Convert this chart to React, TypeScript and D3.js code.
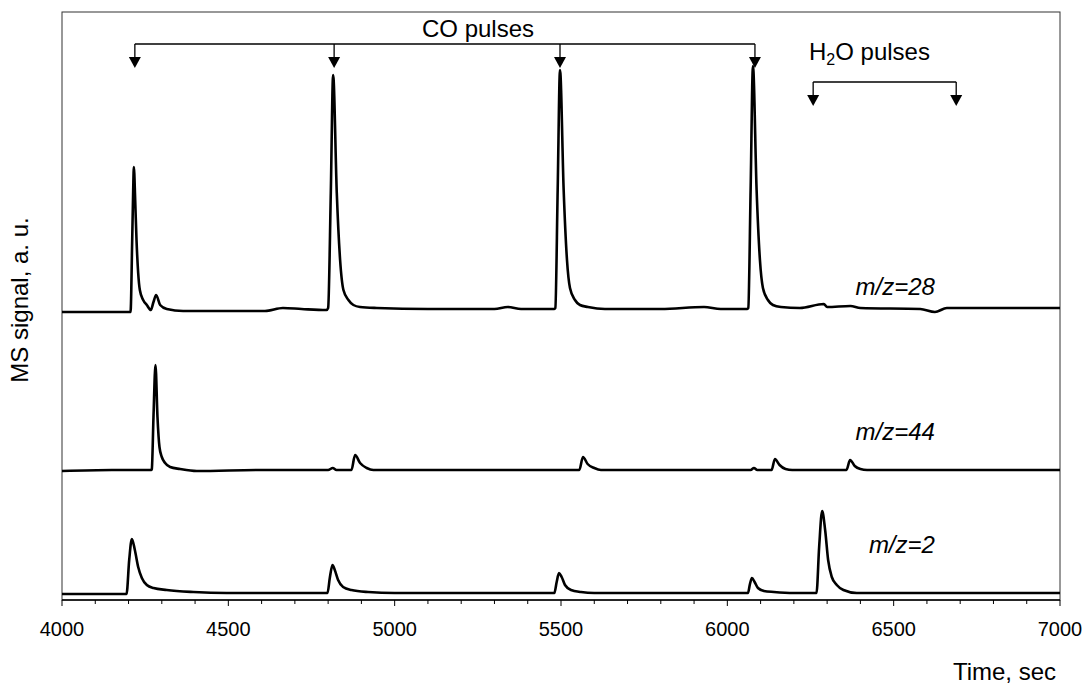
import React from "react";
import * as d3 from "d3";

const W = 1086;
const H = 686;
const M = { left: 62, right: 1060, top: 12, bottom: 600 };

const xTicksMajor = [4000, 4500, 5000, 5500, 6000, 6500, 7000];
const xTicksMinor = d3.range(4000, 7001, 100);

// m/z=28 trace (signal incl. vertical offset, a.u.)
const mz28: [number, number][] = [
  [4000, 288], [4100, 288], [4206, 288], [4211, 360], [4214, 410], [4216, 433], [4220, 400],
  [4224, 360], [4229, 327], [4234, 310], [4244, 300], [4255, 295], [4267, 290], [4275, 298],
  [4283, 305], [4295, 295], [4315, 291], [4364, 289], [4500, 289], [4610, 289], [4664, 292],
  [4720, 291], [4795, 290], [4800, 292], [4808, 407], [4815, 525], [4826, 407], [4836, 340],
  [4846, 310], [4861, 300], [4876, 295], [4896, 293], [4946, 292], [5100, 291], [5300, 291],
  [5340, 293], [5380, 291], [5480, 291], [5483, 292], [5490, 410], [5497, 530], [5508, 410],
  [5518, 340], [5527, 312], [5542, 300], [5557, 295], [5581, 293], [5632, 291], [5800, 291],
  [5930, 293], [5980, 291], [6060, 291], [6063, 292], [6070, 410], [6077, 534], [6088, 410],
  [6098, 340], [6107, 312], [6122, 300], [6137, 295], [6161, 293], [6218, 292], [6290, 296],
  [6300, 293], [6370, 294], [6400, 292], [6580, 291], [6624, 288], [6660, 292], [6800, 292],
  [7000, 292],
];

// m/z=44 trace
const mz44: [number, number][] = [
  [4000, 129], [4150, 130], [4268, 130], [4270, 131], [4275, 183], [4281, 235], [4287, 183],
  [4293, 153], [4300, 143], [4310, 137], [4325, 133], [4355, 131], [4405, 129], [4600, 130],
  [4800, 130], [4814, 132], [4825, 130], [4870, 130], [4881, 145], [4896, 137], [4916, 132],
  [4936, 130], [5100, 130], [5300, 130], [5555, 130], [5566, 143], [5580, 136], [5600, 132],
  [5620, 130], [5800, 130], [6070, 130], [6080, 132], [6090, 130], [6133, 130], [6143, 141],
  [6157, 135], [6175, 131], [6195, 130], [6358, 130], [6369, 140], [6383, 134], [6400, 131],
  [6420, 130], [6600, 130], [7000, 130],
];

// m/z=2 trace
const mz2: [number, number][] = [
  [4000, 6], [4100, 6], [4194, 6], [4202, 40], [4210, 61], [4219, 50], [4229, 33], [4240, 22],
  [4255, 15], [4275, 12], [4315, 10], [4395, 8], [4495, 7], [4700, 7], [4798, 7], [4805, 22],
  [4813, 35], [4820, 30], [4830, 20], [4845, 13], [4870, 10], [4920, 8], [5000, 7], [5300, 7],
  [5480, 7], [5487, 18], [5494, 27], [5502, 23], [5512, 15], [5530, 10], [5560, 8], [5600, 7],
  [5900, 7], [6062, 7], [6068, 16], [6074, 22], [6082, 18], [6092, 12], [6110, 9], [6140, 8],
  [6200, 7], [6268, 7], [6276, 53], [6285, 89], [6294, 70], [6303, 40], [6314, 23], [6329, 15],
  [6349, 10], [6389, 7], [6469, 7], [6700, 7], [7000, 7],
];

const coPulses = [4219, 4818, 5497, 6083];
const h2oPulses = [6258, 6688];

const seriesLabels = [
  { text: "m/z=28", t: 6624, v: 305 },
  { text: "m/z=44", t: 6624, v: 160 },
  { text: "m/z=2", t: 6624, v: 47 },
];

export default function App() {
  const x = d3.scaleLinear().domain([4000, 7000]).range([M.left, M.right]);
  const y = d3.scaleLinear().domain([0, 588]).range([M.bottom, M.top]);
  const line = d3
    .line<[number, number]>()
    .x((d) => x(d[0]))
    .y((d) => y(d[1]))
    .curve(d3.curveMonotoneX);

  const font = "'Liberation Sans', Arial, sans-serif";
  const coY = 44;
  const h2oY = 82;

  const arrow = (cx: number, top: number, tip: number, key: string) => (
    <g key={key}>
      <line x1={cx} x2={cx} y1={top} y2={tip - 10} stroke="#000" strokeWidth={1.3} />
      <path d={`M${cx - 6},${tip - 11} L${cx + 6},${tip - 11} L${cx},${tip} Z`} fill="#000" />
    </g>
  );

  return (
    <svg
      width={W}
      height={H}
      style={{ position: "absolute", left: 0, top: 0, background: "#fff" }}
      fontFamily={font}
    >
      <rect x={0} y={0} width={W} height={H} fill="#fff" />
      <rect
        x={M.left}
        y={M.top}
        width={M.right - M.left}
        height={M.bottom - M.top}
        fill="none"
        stroke="#333"
        strokeWidth={1}
      />
      <line x1={M.left} x2={M.right} y1={M.bottom} y2={M.bottom} stroke="#000" strokeWidth={1.3} />
      {xTicksMinor.map((t) => (
        <line
          key={"m" + t}
          x1={x(t)}
          x2={x(t)}
          y1={M.bottom}
          y2={M.bottom + (t % 500 === 0 ? 6 : 4)}
          stroke="#000"
          strokeWidth={1}
        />
      ))}
      {xTicksMajor.map((t) => (
        <text key={"l" + t} x={x(t)} y={636} textAnchor="middle" fontSize={20}>
          {t}
        </text>
      ))}
      <text x={1056} y={680} textAnchor="end" fontSize={24}>
        Time, sec
      </text>
      <text
        transform={`translate(28,${300}) rotate(-90)`}
        textAnchor="middle"
        fontSize={24}
      >
        MS signal, a. u.
      </text>

      {[mz28, mz44, mz2].map((s, i) => (
        <path key={i} d={line(s) || ""} fill="none" stroke="#000" strokeWidth={2.6} strokeLinejoin="round" />
      ))}

      {seriesLabels.map((l) => (
        <text key={l.text} x={x(l.t)} y={y(l.v)} fontSize={24} fontStyle="italic" textAnchor="end">
          {l.text}
        </text>
      ))}

      {/* CO pulses */}
      <line x1={x(coPulses[0])} x2={x(coPulses[coPulses.length - 1])} y1={coY} y2={coY} stroke="#000" strokeWidth={1.3} />
      {coPulses.map((t) => arrow(x(t), coY, 68, "co" + t))}
      <text x={478} y={37} textAnchor="middle" fontSize={24}>
        CO pulses
      </text>

      {/* H2O pulses */}
      <line x1={x(h2oPulses[0])} x2={x(h2oPulses[1])} y1={h2oY} y2={h2oY} stroke="#000" strokeWidth={1.3} />
      {h2oPulses.map((t) => arrow(x(t), h2oY, 106, "h" + t))}
      <text x={809} y={60} fontSize={24}>
        H<tspan fontSize={16} dy={5}>2</tspan>
        <tspan dy={-5}>O pulses</tspan>
      </text>
    </svg>
  );
}
